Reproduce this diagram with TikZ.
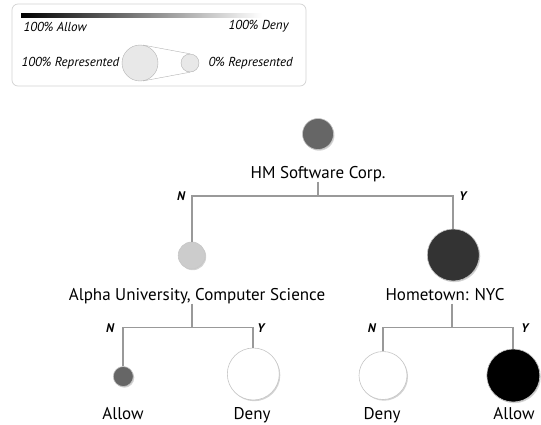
\documentclass[tikz,border=0pt]{standalone}
\usepackage{fontspec}
\setmainfont{PT Sans}
\usetikzlibrary{positioning, shadows}
\tikzset{
x=1pt, y=-1pt, % pixel grid of the reference
outcome/.style={circle, draw=gray!45, line width=0.6pt, inner sep=0pt, drop shadow={opacity=0.35, shadow xshift=1pt, shadow yshift=-1.2pt}}, % sets the look of each outcome circle
attr/.style={inner sep=0pt, text depth=0.3em, font=\fontsize{17}{19}\selectfont}, % attribute names
leaflbl/.style={inner sep=0pt, font=\fontsize{17}{19}\selectfont}, % outcome names
branch/.style={draw=gray!80, line width=1.7pt}, % tree edges
yn/.style={font=\fontsize{12.5}{14}\selectfont\bfseries\itshape},
legend/.style={font=\fontsize{13}{15}\selectfont\itshape},
}

\begin{document}
\begin{tikzpicture}
        \useasboundingbox (0,0) rectangle (541,424);
        % legend
        \node[draw=gray!35, rounded corners=6pt, minimum width=294pt, minimum height=82pt, line width=0.7pt] (key) at (159,45) {};
        \shade[left color=black, right color=white] (21,13) rectangle (262,17.5);
        \node[legend, anchor=base west] (allowkey) at (20,31) {100\% Allow};
        \node[legend, anchor=base east] (denykey) at (292,29.5) {100\% Deny};
        \node[legend, anchor=west] (fullkey) at (18,63) {100\% Represented};
        \node[legend, anchor=west] (zerokey) at (205,63) {0\% Represented};
        \node[circle, draw=gray!60, fill=gray!18, minimum size=36pt, inner sep=0pt] (bigkey) at (140,63) {};
        \node[circle, draw=gray!60, fill=gray!18, minimum size=18pt, inner sep=0pt] (smallkey) at (190,63) {};
        \draw[gray!60] (bigkey.80) -- (smallkey.90) (bigkey.280) -- (smallkey.270);
        % tree
        \node[outcome, fill=gray!80!black, minimum size=31pt] (hm) at (318,134) {};
        \node[attr, anchor=base] (hmlbl) at (318,178.5) {HM Software Corp.};
        \node[outcome, fill=gray!40, minimum size=27pt] (alpha) at (191.7,255.5) {};
        \node[attr, anchor=base] (alphalbl) at (197,300.5) {Alpha University, Computer Science};
        \node[outcome, fill=black!80, minimum size=52pt] (nyc) at (453.3,255) {};
        \node[attr, anchor=base] (nyclbl) at (445,300.5) {Hometown: NYC};
        \node[outcome, fill=gray!80!black, minimum size=20pt] (aa) at (123.3,376.5) {};
        \node[outcome, fill=white, minimum size=52pt] (ad) at (253.3,374) {};
        \node[outcome, fill=white, minimum size=48pt] (nd) at (383,375.5) {};
        \node[outcome, fill=black, minimum size=53pt] (na) at (513.3,375.5) {};
        \node[leaflbl, anchor=base] (aalbl) at (123,419.5) {Allow};
        \node[leaflbl, anchor=base] (adlbl) at (252,419.5) {Deny};
        \node[leaflbl, anchor=base] (ndlbl) at (382,419.5) {Deny};
        \node[leaflbl, anchor=base] (nalbl) at (514,419.5) {Allow};
        \coordinate (hmfork) at (318,195.7);
        \coordinate (alphafork) at (191.7,327.5);
        \coordinate (nycfork) at (451.7,327.5);
        \draw[branch] (hmfork |- hmlbl.south) -- (hmfork);
        \draw[branch] (alpha.north) |- (hmfork) -| (nyc.north);
        \draw[branch] (alphafork |- alphalbl.south) -- (alphafork);
        \draw[branch] (aa.north) |- (alphafork) -| (ad.north);
        \draw[branch] (nycfork |- nyclbl.south) -- (nycfork);
        \draw[branch] (nd.north) |- (nycfork) -| (na.north);
        \node[yn] (hmno) at (181,196) {N};
        \node[yn] (hmyes) at (463,196) {Y};
        \node[yn] (alphano) at (110,328) {N};
        \node[yn] (alphayes) at (261,328) {Y};
        \node[yn] (nycno) at (371.7,328) {N};
        \node[yn] (nycyes) at (525,328) {Y};
\end{tikzpicture}
\end{document}
